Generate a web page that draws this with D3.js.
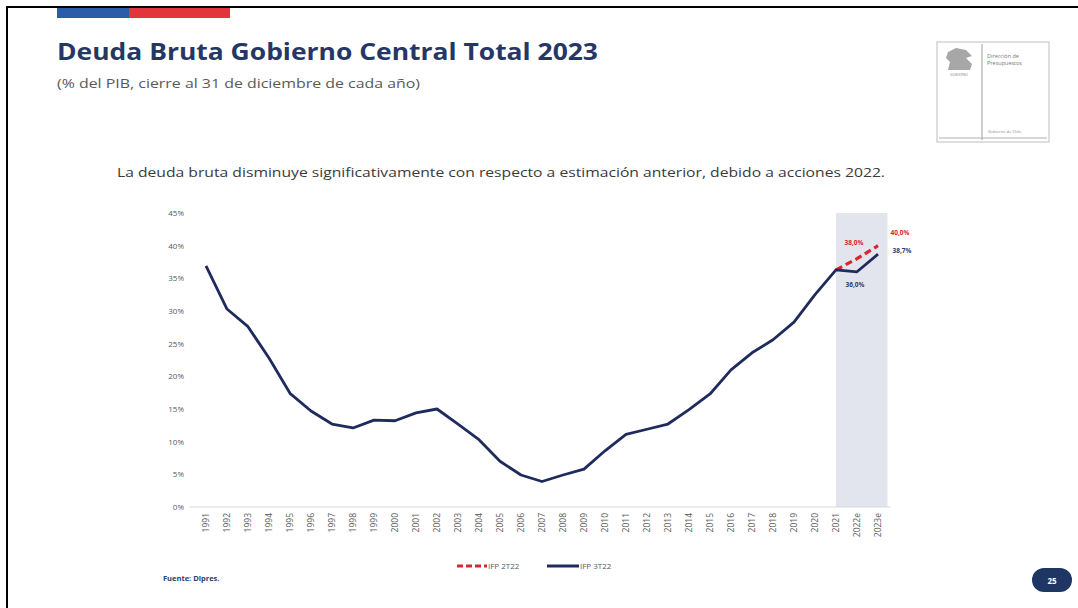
<!DOCTYPE html>
<html>
<head>
<meta charset="utf-8">
<script src="https://cdn.jsdelivr.net/npm/d3@7"></script>
<style>
  html, body { margin: 0; padding: 0; background: #fff; }
  svg { display: block; }
</style>
</head>
<body>
<svg id="chart" width="1078" height="608"></svg>
<script>
// Categories (years, estimates marked "e")
const years = ["1991","1992","1993","1994","1995","1996","1997","1998","1999","2000",
  "2001","2002","2003","2004","2005","2006","2007","2008","2009","2010",
  "2011","2012","2013","2014","2015","2016","2017","2018","2019","2020",
  "2021","2022e","2023e"];

// IFP 3T22: gross central government debt, % of GDP
const ifp3t22 = [36.9, 30.3, 27.6, 22.8, 17.4, 14.7, 12.7, 12.1, 13.3, 13.2,
  14.4, 15.0, 12.7, 10.3, 7.0, 4.9, 3.9, 4.9, 5.8, 8.6,
  11.1, 11.9, 12.7, 14.9, 17.3, 21.0, 23.6, 25.6, 28.3, 32.5,
  36.3, 36.0, 38.7];

// IFP 2T22 projection from 2021 onward
const ifp2t22Years = ["2021", "2022e", "2023e"];
const ifp2t22 = [36.3, 38.0, 40.0];

// Y axis ticks (percent)
const yTicks = [0, 5, 10, 15, 20, 25, 30, 35, 40, 45];

// Data labels for the projected years
const labels = [
  { year: "2022e", value: 38.0, text: "38,0%", series: "2T", dx: -3, dy: -14 },
  { year: "2023e", value: 40.0, text: "40,0%", series: "2T", dx: 22, dy: -11 },
  { year: "2023e", value: 38.7, text: "38,7%", series: "3T", dx: 24, dy: -1 },
  { year: "2022e", value: 36.0, text: "36,0%", series: "3T", dx: -2, dy: 15 }
];

const navy = "#1f2b5c";
const red = "#d7262c";
const grey = "#595959";

const svg = d3.select("#chart");

// Page frame
svg.append("line").attr("x1", 6).attr("x2", 1078).attr("y1", 7).attr("y2", 7)
  .attr("stroke", "#000").attr("stroke-width", 2);
svg.append("line").attr("x1", 7).attr("x2", 7).attr("y1", 6).attr("y2", 608)
  .attr("stroke", "#000").attr("stroke-width", 2);

// Flag strip
svg.append("rect").attr("x", 57).attr("y", 8).attr("width", 72).attr("height", 10).attr("fill", "#2a5ca8");
svg.append("rect").attr("x", 129).attr("y", 8).attr("width", 101).attr("height", 10).attr("fill", "#e1373c");

// Title block
svg.append("text").attr("x", 57).attr("y", 60)
  .attr("font-family", "Open Sans, sans-serif").attr("font-weight", 700)
  .attr("font-size", 23).attr("fill", "#263766")
  .attr("textLength", 541).attr("lengthAdjust", "spacingAndGlyphs")
  .text("Deuda Bruta Gobierno Central Total 2023");
svg.append("text").attr("x", 57).attr("y", 88)
  .attr("font-family", "Open Sans, sans-serif").attr("font-size", 12.5).attr("fill", grey)
  .attr("textLength", 363).attr("lengthAdjust", "spacingAndGlyphs")
  .text("(% del PIB, cierre al 31 de diciembre de cada año)");

// Institutional logo box
const logo = svg.append("g");
logo.append("rect").attr("x", 937).attr("y", 42).attr("width", 112).attr("height", 100)
  .attr("fill", "#fff").attr("stroke", "#c8c8c8").attr("stroke-width", 1.2);
logo.append("line").attr("x1", 982).attr("x2", 982).attr("y1", 44).attr("y2", 140)
  .attr("stroke", "#b0b0b0").attr("stroke-width", 1.2);
logo.append("line").attr("x1", 939).attr("x2", 1047).attr("y1", 138).attr("y2", 138)
  .attr("stroke", "#b0b0b0").attr("stroke-width", 1);
logo.append("path").attr("d", "M948,52 L956,48 L966,50 L972,56 L966,58 L972,64 L970,70 L948,70 L950,62 L946,58 Z")
  .attr("fill", "#8a8a8a").attr("opacity", 0.75);
logo.append("text").attr("x", 959).attr("y", 76).attr("text-anchor", "middle")
  .attr("font-family", "Open Sans, sans-serif").attr("font-size", 3.5).attr("fill", "#888").text("GOBIERNO");
logo.append("text").attr("x", 987).attr("y", 58)
  .attr("font-family", "Open Sans, sans-serif").attr("font-size", 5.5).attr("fill", "#777").text("Dirección de");
logo.append("text").attr("x", 987).attr("y", 65)
  .attr("font-family", "Open Sans, sans-serif").attr("font-size", 5.5).attr("fill", "#777").text("Presupuestos");
logo.append("text").attr("x", 988).attr("y", 133)
  .attr("font-family", "Open Sans, sans-serif").attr("font-size", 4).attr("fill", "#888").text("Gobierno de Chile");

// Headline message
svg.append("text").attr("x", 501).attr("y", 177).attr("text-anchor", "middle")
  .attr("font-family", "Open Sans, sans-serif").attr("font-size", 13.5).attr("fill", "#3a3a3a")
  .attr("textLength", 768).attr("lengthAdjust", "spacingAndGlyphs")
  .text("La deuda bruta disminuye significativamente con respecto a estimación anterior, debido a acciones 2022.");

// Scales
const x = d3.scalePoint().domain(years).range([206, 878]);
const step = x.step();
const y = d3.scaleLinear().domain([0, 45]).range([507, 213]);

// Shaded projection area
svg.append("rect")
  .attr("x", x("2021")).attr("y", y(45))
  .attr("width", x("2023e") + step * 0.45 - x("2021"))
  .attr("height", y(0) - y(45))
  .attr("fill", "#e3e5ee");

// Y axis labels
const yAxis = svg.append("g").attr("transform", "translate(184,0)")
  .call(d3.axisLeft(y).tickValues(yTicks).tickSize(0).tickPadding(0)
    .tickFormat(d => d + "%"));
yAxis.select(".domain").remove();
yAxis.selectAll("text").attr("font-family", "Open Sans, sans-serif")
  .attr("font-size", 8).attr("fill", grey);

// X axis baseline and rotated labels
const xAxis = svg.append("g").attr("transform", `translate(0,${y(0)})`)
  .call(d3.axisBottom(x).tickSize(0).tickPadding(5));
xAxis.select(".domain").attr("d", `M${x.range()[0] - step * 0.8},0H${x.range()[1] + step * 0.6}`)
  .attr("stroke", "#d9d9d9").attr("stroke-width", 1);
xAxis.selectAll("text")
  .attr("font-family", "Open Sans, sans-serif").attr("font-size", 8.5).attr("fill", grey)
  .attr("text-anchor", "end")
  .attr("transform", "rotate(-90)")
  .attr("x", -6).attr("y", 0).attr("dy", "0.35em");

// Lines
const line = d3.line().x(d => x(d[0])).y(d => y(d[1]));

svg.append("path")
  .datum(ifp2t22Years.map((yr, i) => [yr, ifp2t22[i]]))
  .attr("d", line).attr("fill", "none")
  .attr("stroke", red).attr("stroke-width", 3.2)
  .attr("stroke-dasharray", "7,4");

svg.append("path")
  .datum(years.map((yr, i) => [yr, ifp3t22[i]]))
  .attr("d", line).attr("fill", "none")
  .attr("stroke", navy).attr("stroke-width", 2.8)
  .attr("stroke-linejoin", "round");

// Data labels
svg.append("g").selectAll("text").data(labels).join("text")
  .attr("x", d => x(d.year) + d.dx)
  .attr("y", d => y(d.value) + d.dy)
  .attr("text-anchor", "middle")
  .attr("font-family", "Open Sans, sans-serif").attr("font-size", 6.5).attr("font-weight", 700)
  .attr("fill", d => d.series === "2T" ? red : "#2c3d6e")
  .text(d => d.text);

// Legend
const legend = svg.append("g").attr("transform", "translate(0,566)");
legend.append("line").attr("x1", 457).attr("x2", 487).attr("y1", 0).attr("y2", 0)
  .attr("stroke", red).attr("stroke-width", 3).attr("stroke-dasharray", "6,3");
legend.append("text").attr("x", 488).attr("y", 3)
  .attr("font-family", "Open Sans, sans-serif").attr("font-size", 8).attr("fill", grey).text("IFP 2T22");
legend.append("line").attr("x1", 547).attr("x2", 579).attr("y1", 0).attr("y2", 0)
  .attr("stroke", navy).attr("stroke-width", 3);
legend.append("text").attr("x", 580).attr("y", 3)
  .attr("font-family", "Open Sans, sans-serif").attr("font-size", 8).attr("fill", grey).text("IFP 3T22");

// Source note
svg.append("text").attr("x", 163).attr("y", 581)
  .attr("font-family", "Open Sans, sans-serif").attr("font-size", 7.5).attr("font-weight", 700)
  .attr("fill", "#2c3d6e").text("Fuente: Dipres.");

// Page number badge
svg.append("rect").attr("x", 1032).attr("y", 568).attr("width", 40).attr("height", 24)
  .attr("rx", 12).attr("fill", "#1f3564");
svg.append("text").attr("x", 1052).attr("y", 583.5).attr("text-anchor", "middle")
  .attr("font-family", "Open Sans, sans-serif").attr("font-size", 8).attr("font-weight", 700)
  .attr("fill", "#fff").text("25");
</script>
</body>
</html>
